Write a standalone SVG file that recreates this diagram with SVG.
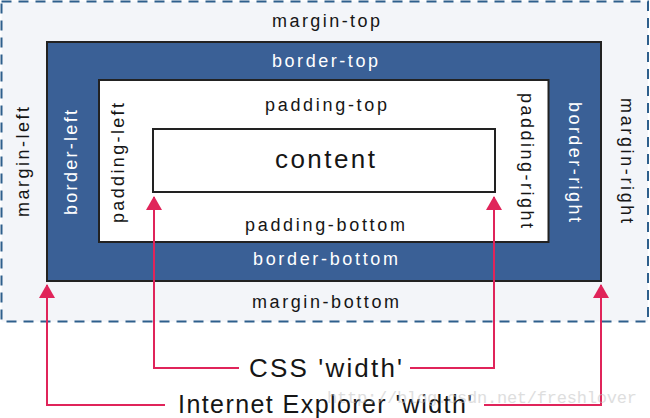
<svg xmlns="http://www.w3.org/2000/svg" width="650" height="418" viewBox="0 0 650 418">
<style>
.lbl{font-family:"Liberation Sans",Arial,sans-serif;font-size:18px;fill:#161616}
.wht{fill:#ffffff}
.big{font-size:26px}
.box{stroke:#222;stroke-width:2}
.arr{fill:none;stroke:#e0245a;stroke-width:2}
.wm{font-family:"Liberation Mono",monospace;font-size:17px;fill:#c4c4c4;opacity:0.55}
</style>
<defs>
<marker id="ah" viewBox="0 0 14 16" refX="13" refY="8" markerWidth="14" markerHeight="16" markerUnits="userSpaceOnUse" orient="auto-start-reverse">
<path d="M0,0 L14,8 L0,16 Z" fill="#e0245a"/>
</marker>
</defs>
<rect width="650" height="418" fill="#ffffff"/>
<g id="margin">
<rect x="1.5" y="1.5" width="646.5" height="320" fill="#f3f5f9" stroke="#2e5f8c" stroke-width="2" stroke-dasharray="10,7"/>
<text class="lbl" x="272" y="27" textLength="108" lengthAdjust="spacing">margin-top</text>
<text class="lbl" x="252" y="308" textLength="147" lengthAdjust="spacing">margin-bottom</text>
<text class="lbl" transform="translate(29,217) rotate(-90)" textLength="110" lengthAdjust="spacing">margin-left</text>
<text class="lbl" transform="translate(621,98) rotate(90)" textLength="125" lengthAdjust="spacing">margin-right</text>
</g>
<g id="border">
<rect class="box" x="47" y="42" width="554" height="239" fill="#3a6096"/>
<text class="lbl wht" x="272" y="67" textLength="106" lengthAdjust="spacing">border-top</text>
<text class="lbl wht" x="253" y="265" textLength="145" lengthAdjust="spacing">border-bottom</text>
<text class="lbl wht" transform="translate(77,215) rotate(-90)" textLength="105" lengthAdjust="spacing">border-left</text>
<text class="lbl wht" transform="translate(569,102) rotate(90)" textLength="120" lengthAdjust="spacing">border-right</text>
</g>
<g id="padding">
<rect class="box" x="99" y="80" width="449.5" height="162" fill="#ffffff"/>
<text class="lbl" x="265" y="111" textLength="122" lengthAdjust="spacing">padding-top</text>
<text class="lbl" x="245" y="231" textLength="160" lengthAdjust="spacing">padding-bottom</text>
<text class="lbl" transform="translate(124,223) rotate(-90)" textLength="120" lengthAdjust="spacing">padding-left</text>
<text class="lbl" transform="translate(521,93) rotate(90)" textLength="135" lengthAdjust="spacing">padding-right</text>
</g>
<g id="content">
<rect class="box" x="153" y="129" width="342" height="63" fill="#ffffff"/>
<text class="lbl big" x="275" y="168" textLength="100" lengthAdjust="spacing">content</text>
</g>
<g id="connectors">
<polyline class="arr" points="154,197 154,368 239,368" marker-start="url(#ah)"/>
<polyline class="arr" points="410,368 494,368 494,197" marker-end="url(#ah)"/>
<polyline class="arr" points="47,285 47,405 165,405" marker-start="url(#ah)"/>
<polyline class="arr" points="484,405 601,405 601,285" marker-end="url(#ah)"/>
</g>
<g id="labels">
<text class="lbl big" x="249" y="377" textLength="153" lengthAdjust="spacing">CSS 'width'</text>
<text class="lbl" style="font-size:25px" x="178" y="413" textLength="294" lengthAdjust="spacing">Internet Explorer 'width'</text>
</g>
<text class="wm" x="327" y="403" textLength="310" lengthAdjust="spacing">http://blog.csdn.net/freshlover</text>
</svg>
